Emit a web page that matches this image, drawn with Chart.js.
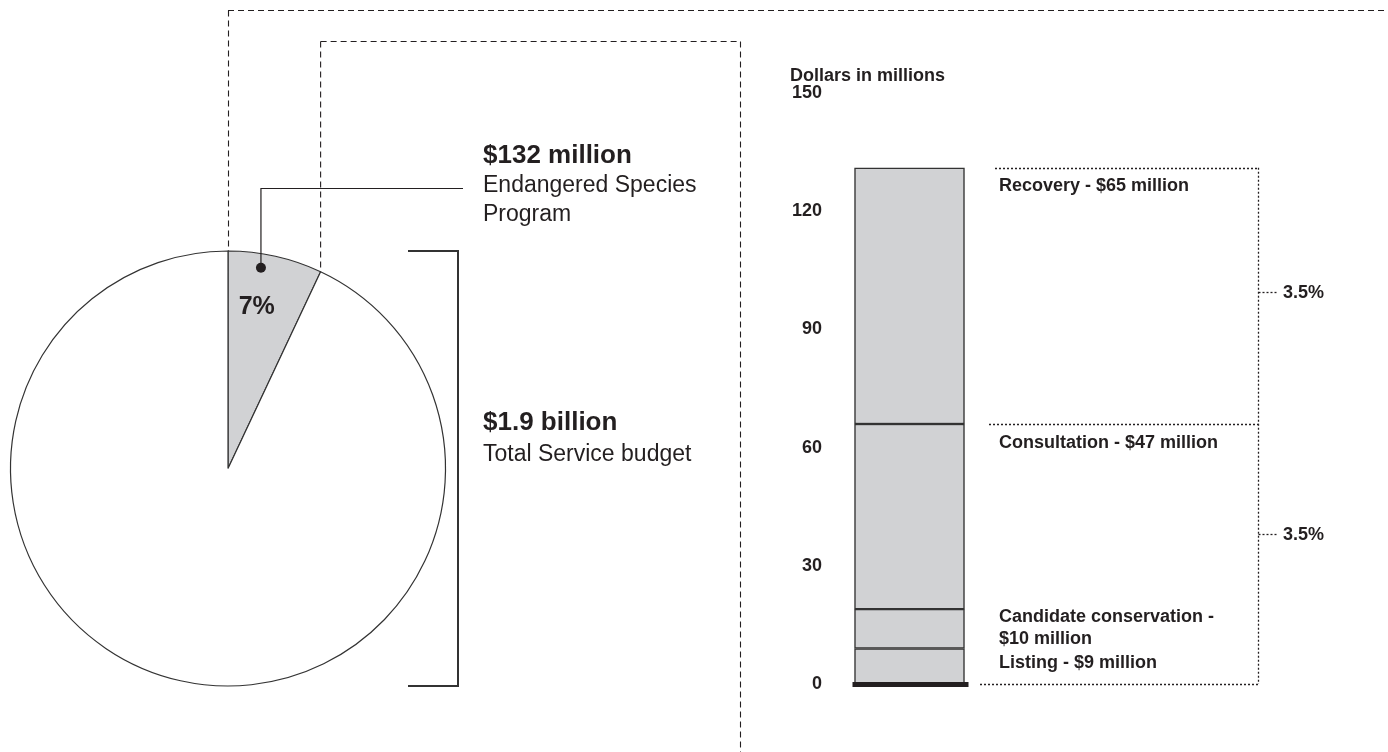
<!DOCTYPE html>
<html><head><meta charset="utf-8">
<script src="https://cdn.jsdelivr.net/npm/chart.js@4.4.0/dist/chart.umd.min.js"></script>
<style>
html,body{margin:0;padding:0;background:#fff;width:1388px;height:752px;overflow:hidden;}
#wrap{position:relative;width:1388px;height:752px;}
canvas{position:absolute;left:0;top:0;}
</style></head><body>
<div id="wrap">
<canvas id="pie" width="1388" height="752"></canvas>
<canvas id="bar" width="1388" height="752"></canvas>
</div>
<script>
// ---- data ----
const pieLabels = ['Endangered Species Program', 'Rest of Service budget'];
const pieValues = [7, 93];
const pieShareLabel = '7%';
const programTitle = '$132 million';
const programLines = ['Endangered Species', 'Program'];
const budgetTitle = '$1.9 billion';
const budgetLines = ['Total Service budget'];

const barCategories = ['Endangered Species Program'];
const segmentNames = ['Listing', 'Candidate conservation', 'Consultation', 'Recovery'];
const segmentValues = [9, 10, 47, 65];
const segmentLabelLines = [
  ['Listing - $9 million'],
  ['Candidate conservation -', '$10 million'],
  ['Consultation - $47 million'],
  ['Recovery - $65 million']
];
const yTicks = [0, 30, 60, 90, 120, 150];
const yTitle = 'Dollars in millions';
const shareLabels = ['3.5%', '3.5%'];

// ---- styles ----
const FONT = "'Liberation Sans', Arial, Helvetica, sans-serif";
const INK = '#231f20';
const GREY = '#d1d2d4';

function dashedLine(ctx, x1, y1, x2, y2, dash, w) {
  ctx.save();
  ctx.strokeStyle = INK; ctx.lineWidth = w || 1; ctx.setLineDash(dash);
  ctx.beginPath(); ctx.moveTo(x1, y1); ctx.lineTo(x2, y2); ctx.stroke();
  ctx.restore();
}

// ---- pie ----
const pieAnnot = {
  id: 'pieAnnot',
  afterDraw(chart) {
    const ctx = chart.ctx;
    const arc = chart.getDatasetMeta(0).data[0];
    const {x, y, outerRadius: r, startAngle: s, endAngle: e} = arc.getProps(['x','y','outerRadius','startAngle','endAngle'], true);
    const W = chart.width, H = chart.height;
    const d = [6, 4];
    // outer dashed box
    const topX = x + r * Math.cos(s), topY = y + r * Math.sin(s);
    dashedLine(ctx, topX, 10.5, W, 10.5, d, 1.1);
    dashedLine(ctx, topX + 0.5, 10.5, topX + 0.5, topY, d, 1.1);
    // inner dashed box
    const ex = x + r * Math.cos(e), ey = y + r * Math.sin(e);
    dashedLine(ctx, ex, 41.5, 740.5, 41.5, d, 1.1);
    dashedLine(ctx, ex, 41.5, ex, ey, d, 1.1);
    dashedLine(ctx, 740.5, 41.5, 740.5, H, d, 1.1);
    // leader line + dot
    const a = s + 0.37 * (e - s), rr = 0.935 * r;
    const dx = x + rr * Math.cos(a), dy = y + rr * Math.sin(a);
    ctx.save();
    ctx.strokeStyle = INK; ctx.lineWidth = 1.2;
    ctx.beginPath(); ctx.moveTo(dx, dy); ctx.lineTo(dx, 188.5); ctx.lineTo(463, 188.5); ctx.stroke();
    ctx.fillStyle = INK; ctx.beginPath(); ctx.arc(dx, dy, 5, 0, Math.PI * 2); ctx.fill();
    // share label
    const la = s + 0.4 * (e - s), lr = 0.755 * r;
    ctx.font = 'bold 25px ' + FONT; ctx.textAlign = 'center'; ctx.textBaseline = 'middle';
    ctx.fillText(pieShareLabel, x + lr * Math.cos(la), y + lr * Math.sin(la));
    // bracket
    ctx.lineWidth = 2; ctx.strokeStyle = '#333';
    ctx.beginPath();
    ctx.moveTo(x + 180, y - r); ctx.lineTo(x + 230, y - r); ctx.lineTo(x + 230, y + r); ctx.lineTo(x + 180, y + r);
    ctx.stroke();
    // texts
    ctx.textAlign = 'left'; ctx.textBaseline = 'alphabetic'; ctx.fillStyle = INK;
    ctx.font = 'bold 26px ' + FONT; ctx.fillText(programTitle, 483, 163);
    ctx.font = '23px ' + FONT;
    programLines.forEach((t, i) => ctx.fillText(t, 483, 192 + i * 29));
    ctx.font = 'bold 26px ' + FONT; ctx.fillText(budgetTitle, 483, 430);
    ctx.font = '23px ' + FONT;
    budgetLines.forEach((t, i) => ctx.fillText(t, 483, 461 + i * 29));
    ctx.restore();
  }
};

new Chart(document.getElementById('pie'), {
  type: 'pie',
  data: {
    labels: pieLabels,
    datasets: [{ data: pieValues, backgroundColor: [GREY, '#ffffff'], borderColor: '#333', borderWidth: 1.2, radius: 217.5 }]
  },
  options: {
    responsive: false, animation: false, events: [],
    rotation: 0,
    layout: { padding: { left: 10, right: 942, top: 251, bottom: 66 } },
    plugins: { legend: { display: false }, tooltip: { enabled: false } }
  },
  plugins: [pieAnnot]
});

// ---- bar ----
const labelOffsets = [[19], [13, 35], [24], [23]];
const barAnnot = {
  id: 'barAnnot',
  afterDraw(chart) {
    const ctx = chart.ctx;
    const ys = chart.scales.y;
    const bar = chart.getDatasetMeta(0).data[0];
    const cum = []; let acc = 0;
    segmentValues.forEach(v => { acc += v; cum.push(acc); });
    const y0 = ys.getPixelForValue(0);
    const yTop = ys.getPixelForValue(cum[3]);
    const yMid = ys.getPixelForValue(cum[2]);
    ctx.save();
    // baseline
    ctx.fillStyle = INK;
    ctx.fillRect(bar.x - 57, y0 - 2, 116, 5);
    // dotted brackets
    const d = [2, 2], vx = 1258.5;
    dashedLine(ctx, 995, Math.round(yTop) + 0.5, vx, Math.round(yTop) + 0.5, d, 1.3);
    dashedLine(ctx, 989, Math.round(yMid) + 0.5, vx, Math.round(yMid) + 0.5, d, 1.3);
    dashedLine(ctx, 980, Math.round(y0) + 0.5, vx, Math.round(y0) + 0.5, d, 1.3);
    dashedLine(ctx, vx, yTop, vx, y0, d, 1.3);
    const marks = [ys.getPixelForValue(99.5), ys.getPixelForValue(38)];
    ctx.font = 'bold 18px ' + FONT; ctx.fillStyle = INK; ctx.textBaseline = 'middle';
    marks.forEach((my, i) => {
      dashedLine(ctx, vx, Math.round(my) + 0.5, 1278, Math.round(my) + 0.5, d, 1.3);
      ctx.fillText(shareLabels[i], 1283, my + 1);
    });
    // segment labels
    ctx.textBaseline = 'alphabetic';
    segmentLabelLines.forEach((lines, i) => {
      const top = ys.getPixelForValue(cum[i]);
      lines.forEach((t, j) => ctx.fillText(t, 999, top + labelOffsets[i][j]));
    });
    // axis title
    ctx.fillText(yTitle, ys.left + 30, 81);
    ctx.restore();
  }
};

new Chart(document.getElementById('bar'), {
  type: 'bar',
  data: {
    labels: barCategories,
    datasets: segmentNames.map((n, i) => ({
      label: n, data: [segmentValues[i]],
      backgroundColor: GREY, borderColor: '#333', borderWidth: 1.5, borderSkipped: false,
      barThickness: 110
    }))
  },
  options: {
    responsive: false, animation: false, events: [],
    layout: { padding: { left: 760, right: 414, top: 93, bottom: 68 } },
    plugins: { legend: { display: false }, tooltip: { enabled: false } },
    scales: {
      x: { stacked: true, display: false },
      y: {
        stacked: true, min: 0, max: 150,
        afterBuildTicks: s => { s.ticks = yTicks.map(v => ({ value: v })); },
        afterFit: s => { s.width = 85; },
        grid: { display: false, drawTicks: false },
        border: { display: false },
        ticks: { padding: 23, color: INK, font: { family: FONT, size: 18, weight: 'bold' } }
      }
    }
  },
  plugins: [barAnnot]
});
</script>
</body></html>
